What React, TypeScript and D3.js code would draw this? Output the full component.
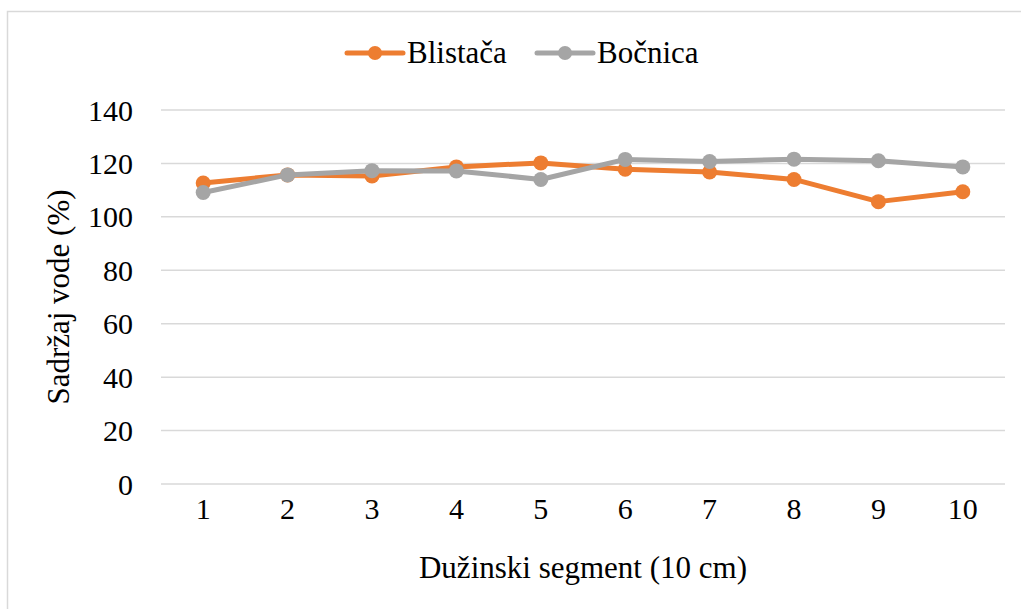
import { useEffect, useRef } from 'react';
import * as d3 from 'd3';

const segments = ['1', '2', '3', '4', '5', '6', '7', '8', '9', '10'];
const blistaca = [112.7, 115.7, 115.3, 118.7, 120.2, 117.8, 116.8, 114.0, 105.7, 109.4];
const bocnica = [109.1, 115.7, 117.3, 117.2, 114.0, 121.5, 120.7, 121.6, 121.0, 118.7];
const yTicks = [0, 20, 40, 60, 80, 100, 120, 140];

const series = [
  { name: 'Blistača', values: blistaca, color: '#ED7D31' },
  { name: 'Bočnica', values: bocnica, color: '#A5A5A5' },
];

const FONT = "'Liberation Serif', 'DejaVu Serif', serif";

export default function App() {
  const ref = useRef<SVGSVGElement>(null);

  useEffect(() => {
    const width = 1021;
    const height = 609;
    const left = 161;
    const right = 1005;
    const top = 110;
    const bottom = 484;

    const svg = d3
      .select(ref.current)
      .attr('width', width)
      .attr('height', height)
      .style('font-family', FONT);
    svg.selectAll('*').remove();

    svg.append('rect').attr('width', width).attr('height', height).attr('fill', '#fff');
    svg
      .append('rect')
      .attr('x', 7.5)
      .attr('y', 11.5)
      .attr('width', width + 10)
      .attr('height', height + 10)
      .attr('fill', 'none')
      .attr('stroke', '#d9d9d9')
      .attr('stroke-width', 1.5);

    const x = d3.scaleBand().domain(segments).range([left, right]);
    const y = d3.scaleLinear().domain([0, 140]).range([bottom, top]);
    const cx = (i: number) => (x(segments[i]) as number) + x.bandwidth() / 2;

    // gridlines
    svg
      .append('g')
      .selectAll('line')
      .data(yTicks)
      .join('line')
      .attr('x1', left)
      .attr('x2', right)
      .attr('y1', d => y(d))
      .attr('y2', d => y(d))
      .attr('stroke', '#d9d9d9')
      .attr('stroke-width', 1.5);

    // y tick labels
    svg
      .append('g')
      .selectAll('text')
      .data(yTicks)
      .join('text')
      .attr('x', 133)
      .attr('y', d => y(d))
      .attr('dy', '0.35em')
      .attr('text-anchor', 'end')
      .style('font-size', '30px')
      .attr('fill', '#000')
      .text(d => d);

    // x tick labels
    svg
      .append('g')
      .selectAll('text')
      .data(segments)
      .join('text')
      .attr('x', (_, i) => cx(i))
      .attr('y', 519)
      .attr('text-anchor', 'middle')
      .style('font-size', '30px')
      .attr('fill', '#000')
      .text(d => d);

    // axis titles
    svg
      .append('text')
      .attr('x', (left + right) / 2)
      .attr('y', 578)
      .attr('text-anchor', 'middle')
      .style('font-size', '31px')
      .text('Dužinski segment (10 cm)');

    svg
      .append('text')
      .attr('transform', `translate(69,${(top + bottom) / 2}) rotate(-90)`)
      .attr('text-anchor', 'middle')
      .style('font-size', '31px')
      .text('Sadržaj vode (%)');

    const line = d3
      .line<number>()
      .x((_, i) => cx(i))
      .y(d => y(d));

    series.forEach(s => {
      const g = svg.append('g');
      g.append('path')
        .attr('d', line(s.values))
        .attr('fill', 'none')
        .attr('stroke', s.color)
        .attr('stroke-width', 5)
        .attr('stroke-linejoin', 'round')
        .attr('stroke-linecap', 'round');
      g.selectAll('circle')
        .data(s.values)
        .join('circle')
        .attr('cx', (_, i) => cx(i))
        .attr('cy', d => y(d))
        .attr('r', 7.5)
        .attr('fill', s.color);
    });

    // legend
    const legendX = [347, 537];
    series.forEach((s, i) => {
      const g = svg.append('g').attr('transform', `translate(${legendX[i]},53)`);
      g.append('line')
        .attr('x1', 0)
        .attr('x2', 56)
        .attr('stroke', s.color)
        .attr('stroke-width', 5)
        .attr('stroke-linecap', 'round');
      g.append('circle').attr('cx', 28).attr('r', 7).attr('fill', s.color);
      g.append('text')
        .attr('x', 60)
        .attr('dy', '0.33em')
        .style('font-size', '31px')
        .text(s.name);
    });
  }, []);

  return <svg ref={ref} style={{ position: 'absolute', left: 0, top: 0 }} />;
}
